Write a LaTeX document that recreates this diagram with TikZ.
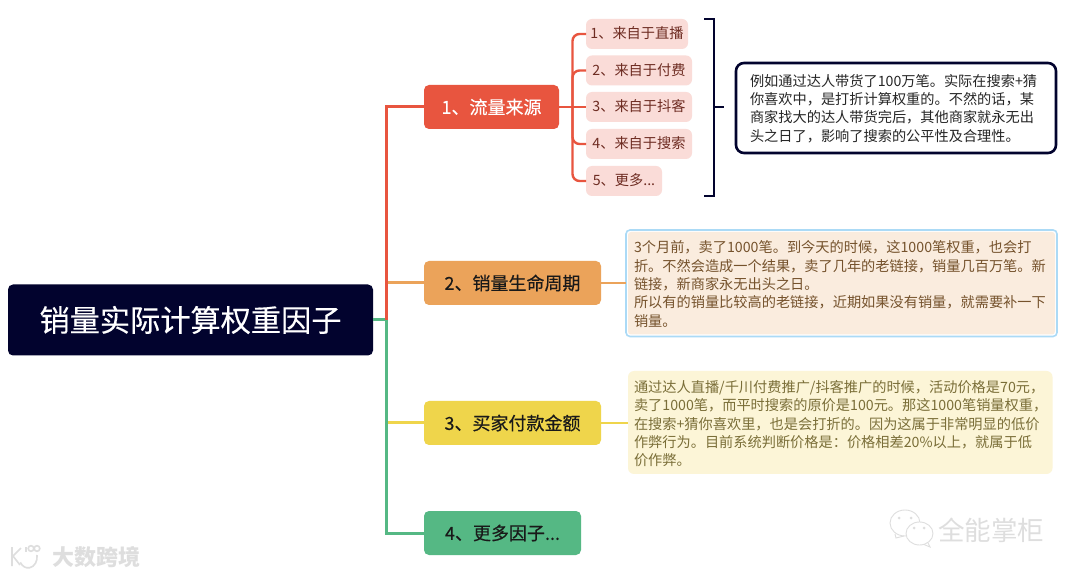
\documentclass[tikz,border=0pt]{standalone}
\usepackage{fontspec}
\setmainfont{Noto Sans CJK SC}
\definecolor{navy}{HTML}{02032E}
\definecolor{cred}{HTML}{E8553F}
\definecolor{corange}{HTML}{EBA35A}
\definecolor{cyellow}{HTML}{EFD54B}
\definecolor{cgreen}{HTML}{55B884}
\definecolor{subfill}{HTML}{FADCD8}
\definecolor{subtext}{HTML}{6E2C22}
\definecolor{wmark}{HTML}{DEDEDE}
\definecolor{ntwoborder}{HTML}{ABDAF6}
\definecolor{ntwofill}{HTML}{FAECDE}
\definecolor{ntwotext}{HTML}{75522C}
\definecolor{nthreefill}{HTML}{FCF5D7}
\definecolor{nthreetext}{HTML}{7A6E38}
\newcommand{\fs}[1]{\fontsize{#1}{#1}\selectfont}
\tikzset{
  x=1pt,y=-1pt,
  box/.style={rounded corners=5pt,inner sep=0pt,outer sep=0pt,anchor=north west},
  root/.style={box,fill=navy,text=white,font=\fs{30.2}\addfontfeatures{FakeBold=0.3},align=center},
  main/.style={box,font=\fs{18}\addfontfeatures{FakeBold=0.3},text=black!90,align=center},
  subn/.style={box,fill=subfill,text=subtext,font=\fs{14.2},rounded corners=6pt,text height=11pt,text depth=1pt},
  note/.style={box,font=\fs{14.2},align=left,text width=#1},
  link/.style={line width=3pt},
  stub/.style={line width=2.2pt},
  sublink/.style={line width=2.4pt,cred,rounded corners=7pt},
  wm/.style={inner sep=0pt,text=wmark}
}
\begin{document}
\begin{tikzpicture}
\useasboundingbox (0,0) rectangle (1080,577);
\fill[white] (0,0) rectangle (1080,577);
% root
\node[root,minimum width=365pt,minimum height=71pt] (r) at (8,284.5) {销量实际计算权重因子};
% main branches
\node[main,fill=cred,text=white,minimum width=135pt,minimum height=44pt] (m1) at (424,85) {1、流量来源};
\node[main,fill=corange,minimum width=177pt,minimum height=44pt] (m2) at (424,261) {2、销量生命周期};
\node[main,fill=cyellow,minimum width=177pt,minimum height=44pt] (m3) at (424,401) {3、买家付款金额};
\node[main,fill=cgreen,minimum width=157pt,minimum height=44pt] (m4) at (424,511) {4、更多因子...};
% sub nodes
\node[subn,minimum width=102pt,minimum height=30pt] (s1) at (586,19) {1、来自于直播};
\node[subn,minimum width=106pt,minimum height=30pt] (s2) at (586,55.5) {2、来自于付费};
\node[subn,minimum width=106pt,minimum height=30pt] (s3) at (586,92) {3、来自于抖客};
\node[subn,minimum width=106pt,minimum height=30pt] (s4) at (586,129) {4、来自于搜索};
\node[subn,minimum width=76pt,minimum height=30pt] (s5) at (586,166) {5、更多...};
% notes
\node[box,draw=navy,line width=2.6pt,fill=white,rounded corners=8pt,minimum width=320pt,minimum height=90pt] (n1) at (736,63) {};
\node[note=300pt,anchor=west,text=black!85] (n1t) at (750,108.5) {\setlength{\baselineskip}{18.3pt}例如通过达人带货了100万笔。实际在搜索+猜\\你喜欢中，是打折计算权重的。不然的话，某\\商家找大的达人带货完后，其他商家就永无出\\头之日了，影响了搜索的公平性及合理性。\par};
\node[box,draw=ntwoborder,line width=1.6pt,fill=white,rounded corners=4pt,minimum width=431pt,minimum height=106.5pt] (n2) at (626,230) {};
\node[box,fill=ntwofill,rounded corners=3pt,minimum width=427pt,minimum height=102.5pt] (n2i) at (628,232) {};
\node[note=420pt,anchor=west,text=ntwotext] (n2t) at (634,284) {\setlength{\baselineskip}{18.3pt}3个月前，卖了1000笔。到今天的时候，这1000笔权重，也会打\\折。不然会造成一个结果，卖了几年的老链接，销量几百万笔。新\\链接，新商家永无出头之日。\\所以有的销量比较高的老链接，近期如果没有销量，就需要补一下\\销量。\par};
\node[box,fill=nthreefill,rounded corners=6pt,minimum width=424.5pt,minimum height=103pt] (n3) at (628,371) {};
\node[note=416pt,anchor=west,text=nthreetext] (n3t) at (634,423.7) {\setlength{\baselineskip}{18.3pt}通过达人直播/千川付费推广/抖客推广的时候，活动价格是70元，\\卖了1000笔，而平时搜索的原价是100元。那这1000笔销量权重，\\在搜索+猜你喜欢里，也是会打折的。因为这属于非常明显的低价\\作弊行为。目前系统判断价格是：价格相差20\%以上，就属于低\\价作弊。\par};
% trunk coordinates
\coordinate (tr) at (386,320);
\coordinate (st) at (572.5,107);
\coordinate (bm) at (714,107);
\coordinate (bs) at (724,107);
\coordinate (bt) at (714,19);
\coordinate (bb) at (714,196);
% connectors from root
\draw[link,cyellow] (tr |- m3.west) -- (m3.west);
\draw[link,corange] (tr |- m2.west) -- (m2.west);
\draw[link,cgreen] (r.east |- tr) -- (tr);
\draw[link,cgreen] (tr) -- (tr |- m4.west) -- (m4.west);
\draw[link,cred] (tr) -- (tr |- m1.west) -- (m1.west);
% right-hand stubs
\draw[stub,corange] (m2.east) -- (m2.east -| n2.west);
\draw[stub,cyellow] (m3.east) -- (m3.east -| n3.west);
% sub links
\draw[sublink] (m1.east) -- (s3.west);
\draw[sublink] (s1.west) -| (st) |- (s5.west);
\draw[sublink] (s2.west) -| (st);
\draw[sublink] (s4.west) -| (st);
% bracket
\draw[line width=2pt,navy] ([xshift=-10pt]bt) -- (bt) -- (bb) -- ([xshift=-10pt]bb);
\draw[line width=2pt,navy] (bm) -- (bs);
% watermarks
\node[wm,font=\fs{22}\bfseries,anchor=west] (w1) at (52,557) {大数跨境};
\node[wm,font=\fs{26.5},anchor=west] (w2) at (938,530) {全能掌柜};
\begin{scope}[wmark,line width=1.6pt]
\draw (12,547) -- (12,566) (21,548) -- (13,556) -- (20,565);
\draw (37,555) arc (10:-150:9pt and 11pt);
\draw (26,547) -- (26,552);
\draw (31,548.5) circle[radius=2.8pt] (37,548.5) circle[radius=2.8pt];
\end{scope}
\begin{scope}[draw=wmark,line width=.9pt,fill=white]
\draw (905,523) ellipse[x radius=15pt,y radius=13pt];
\draw (895,534) -- (896,538) -- (904,536);
\draw[fill=white] (919.5,533.5) ellipse[x radius=13.5pt,y radius=11.5pt];
\draw (924,544.5) -- (930,547) -- (928,543);
\fill[wmark] (899,518) circle[radius=1.5pt] (911,518) circle[radius=1.5pt] (914,528) circle[radius=1.5pt] (924,528) circle[radius=1.5pt];
\end{scope}
\end{tikzpicture}
\end{document}
